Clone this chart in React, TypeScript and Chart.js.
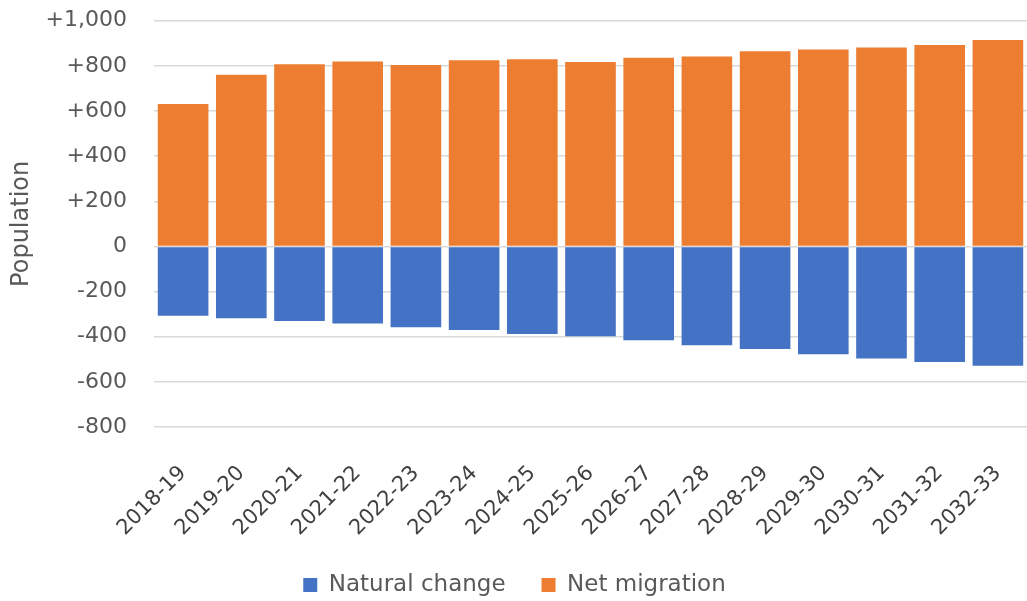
import React, { useEffect, useRef } from "react";
import { Chart, registerables } from "chart.js";

Chart.register(...registerables);

const categories = [
  "2018-19", "2019-20", "2020-21", "2021-22", "2022-23", "2023-24", "2024-25", "2025-26",
  "2026-27", "2027-28", "2028-29", "2029-30", "2030-31", "2031-32", "2032-33",
];
const naturalChange = [-307, -318, -330, -342, -358, -370, -388, -398, -416, -438, -454, -478, -497, -512, -529];
const netMigration = [631, 761, 807, 819, 804, 825, 829, 817, 836, 841, 865, 872, 881, 892, 915];
const yMin = -800;
const yMax = 1000;
const yStep = 200;

const FONT = "'DejaVu Sans', sans-serif";

function fmt(v: number): string {
  if (v === 0) return "0";
  const s = Math.abs(v).toLocaleString("en-US");
  return (v > 0 ? "+" : "-") + s;
}

export default function App() {
  const ref = useRef<HTMLCanvasElement | null>(null);
  useEffect(() => {
    if (!ref.current) return;
    const chart = new Chart(ref.current, {
      type: "bar",
      data: {
        labels: categories,
        datasets: [
          {
            label: "Natural change",
            data: naturalChange,
            backgroundColor: "#4472C4",
            barPercentage: 0.87,
            categoryPercentage: 1,
          },
          {
            label: "Net migration",
            data: netMigration,
            backgroundColor: "#ED7D31",
            barPercentage: 0.87,
            categoryPercentage: 1,
          },
        ],
      },
      options: {
        animation: false,
        responsive: false,
        maintainAspectRatio: false,
        layout: { padding: { top: 0, left: 0, right: -2, bottom: -5.5 } },
        plugins: {
          tooltip: { enabled: false },
          legend: {
            position: "bottom",
            labels: {
              boxWidth: 14,
              boxHeight: 14,
              padding: 36,
              color: "#595959",
              font: { family: FONT, size: 23 },
            },
          },
        },
        scales: {
          x: {
            stacked: true,
            grid: { display: false },
            border: { display: false },
            ticks: {
              color: "#404040",
              font: { family: FONT, size: 21 },
              minRotation: 45,
              maxRotation: 45,
              padding: 26,
              autoSkip: false,
            },
            afterFit: (scale: any) => {
              scale.height = 110.5;
              scale.paddingLeft = 0;
              scale.paddingRight = 0;
            },
          },
          y: {
            stacked: true,
            min: yMin,
            max: yMax,
            border: { display: false },
            grid: { color: "#d9d9d9", lineWidth: 1.5, drawTicks: false },
            ticks: {
              stepSize: yStep,
              color: "#595959",
              font: { family: FONT, size: 22 },
              padding: 27,
              callback: (v: any) => fmt(Number(v)),
            },
            title: {
              display: true,
              text: "Population",
              color: "#595959",
              font: { family: FONT, size: 24 },
              padding: { top: 7.6, bottom: 0 },
            },
            afterFit: (scale: any) => {
              scale.width = 154;
              scale.paddingTop = 20.7;
              scale.paddingBottom = 0;
            },
          },
        },
      },
    });
    return () => chart.destroy();
  }, []);
  return (
    <div style={{ position: "absolute", left: 0, top: 0, width: 1027, height: 601, background: "#fff" }}>
      <canvas ref={ref} width={1027} height={601} style={{ width: 1027, height: 601 }} />
    </div>
  );
}
